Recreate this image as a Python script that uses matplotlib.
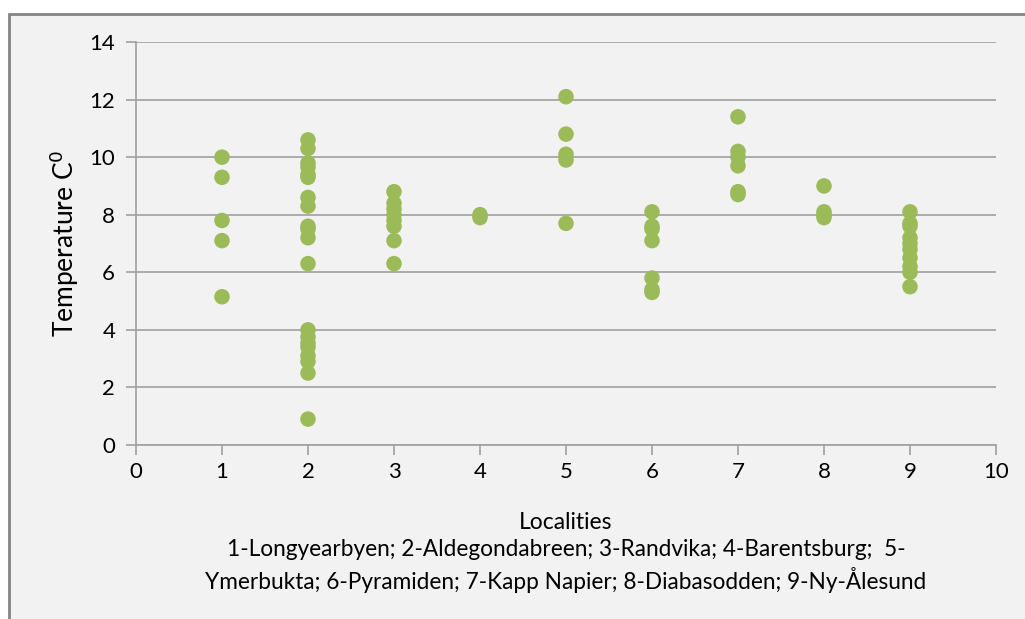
import numpy as np
import matplotlib.pyplot as plt
from matplotlib.patches import Rectangle

plt.rcParams['font.family'] = ['Lato', 'DejaVu Sans']

# temperature readings per locality
loc1 = [10.0, 9.3, 7.8, 7.1, 5.15]
loc2 = [10.6, 10.3, 9.8, 9.65, 9.4, 9.3, 8.6, 8.3, 7.6, 7.5, 7.2, 6.3,
        4.0, 3.75, 3.55, 3.4, 3.1, 2.9, 2.5, 0.9]
loc3 = [8.8, 8.4, 8.2, 8.0, 7.8, 7.6, 7.1, 6.3]
loc4 = [8.0, 7.9]
loc5 = [12.1, 10.8, 10.1, 9.9, 7.7]
loc6 = [8.1, 7.6, 7.5, 7.1, 5.8, 5.4, 5.3]
loc7 = [11.4, 10.2, 10.0, 9.7, 8.8, 8.7]
loc8 = [9.0, 8.1, 8.0, 7.9]
loc9 = [8.1, 7.7, 7.6, 7.2, 7.0, 6.8, 6.5, 6.2, 6.0, 5.5]

localities = [loc1, loc2, loc3, loc4, loc5, loc6, loc7, loc8, loc9]

xs = []
ys = []
for i, vals in enumerate(localities):
    xs += [i + 1] * len(vals)
    ys += vals

fig = plt.figure(figsize=(10.25, 6.19), dpi=100, facecolor="white")
# grey chart area with frame
fig.patches.append(Rectangle((9 / 1025, -0.01), 1.0, 1 - 14 / 619 + 0.01,
                             transform=fig.transFigure, facecolor="#f2f2f2",
                             edgecolor="#858585", linewidth=2, zorder=-1))

ax = fig.add_axes([136 / 1025, 1 - 445 / 619, 860 / 1025, 403 / 619])
ax.set_facecolor("#f2f2f2")
ax.scatter(xs, ys, s=125, color="#9bbb59", edgecolors="none", zorder=3)

ax.set_xlim(0, 10)
ax.set_ylim(0, 14)
ax.set_xticks(range(0, 11))
ax.set_yticks(range(0, 15, 2))
ax.grid(axis="y", color="#a0a0a0", linewidth=1.2)
ax.set_axisbelow(True)
for s in ["top", "right"]:
    ax.spines[s].set_visible(False)
for s in ["left", "bottom"]:
    ax.spines[s].set_color("#a0a0a0")
    ax.spines[s].set_linewidth(1.2)
ax.tick_params(axis="both", colors="#a0a0a0", labelcolor="black", labelsize=16,
               length=7, width=1.2)
ax.tick_params(axis="y", pad=8)
ax.tick_params(axis="x", pad=5)

ax.set_ylabel("Temperature C$^0$", fontsize=19, labelpad=6)
ax.set_xlabel("Localities", fontsize=16.5, labelpad=22)

fig.text(566 / 1025, 1 - 550 / 619,
         "1-Longyearbyen; 2-Aldegondabreen; 3-Randvika; 4-Barentsburg;  5-",
         ha="center", va="center", fontsize=16.3)
fig.text(566 / 1025, 1 - 580 / 619,
         "Ymerbukta; 6-Pyramiden; 7-Kapp Napier; 8-Diabasodden; 9-Ny-Ålesund",
         ha="center", va="center", fontsize=16.3)

fig.savefig("out.png", dpi=100, facecolor="white")
